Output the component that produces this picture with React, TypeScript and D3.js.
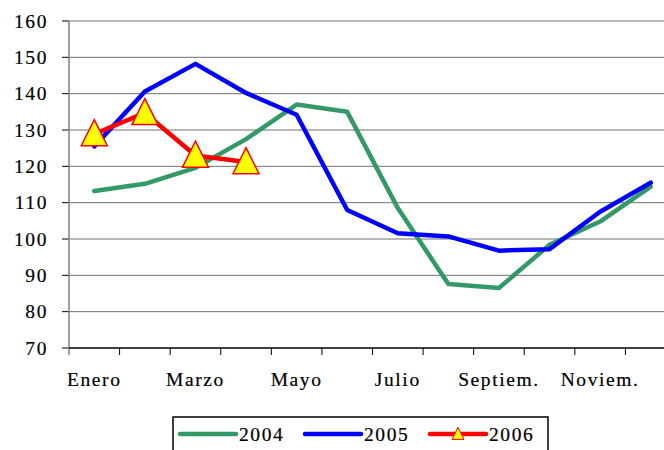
import React from "react";
import * as d3 from "d3";

const months = ["Ene", "Feb", "Mar", "Abr", "May", "Jun", "Jul", "Ago", "Sep", "Oct", "Nov", "Dic"];
const monthLabels = ["Enero", "", "Marzo", "", "Mayo", "", "Julio", "", "Septiem.", "", "Noviem.", ""];
const yTicks = [70, 80, 90, 100, 110, 120, 130, 140, 150, 160];

const values2004 = [113.2, 115.2, 119.6, 127.5, 137, 135, 108.5, 87.6, 86.5, 98.4, 104.8, 114.4];
const values2005 = [125.5, 140.6, 148.2, 140.2, 134.2, 108, 101.6, 100.7, 96.8, 97.2, 107.5, 115.5];
const values2006 = [128.9, 134.7, 123, 121.2];

const series = [
  { name: "2004", values: values2004, color: "#339966", marker: false },
  { name: "2005", values: values2005, color: "#0000FF", marker: false },
  { name: "2006", values: values2006, color: "#FF0000", marker: true },
];

const textStyle = {
  fontFamily: "'Liberation Serif', serif",
  fontSize: 19.5,
  letterSpacing: 1.6,
  fill: "#000",
  stroke: "#000",
  strokeWidth: 0.2,
};

const triangle = (cx: number, cy: number, s: number) =>
  `M${cx},${cy - s * 0.55}L${cx + s / 2},${cy + s * 0.45}L${cx - s / 2},${cy + s * 0.45}Z`;

export default function App() {
  const width = 664;
  const height = 450;
  const left = 69;
  const right = 676;
  const top = 21;
  const bottom = 348;

  const x = d3.scaleBand<string>().domain(months).range([left, right]);
  const y = d3.scaleLinear().domain([70, 160]).range([bottom, top]);
  const cx = (i: number) => (x(months[i]) as number) + x.bandwidth() / 2;

  const line = d3
    .line<number>()
    .x((d, i) => cx(i))
    .y((d) => y(d));

  return (
    <svg width={width} height={height} style={{ position: "absolute", left: 0, top: 0 }}>
      <rect width={width} height={height} fill="#fff" />
      {yTicks.map((t) => (
        <g key={t}>
          {t > 70 && <line x1={left} x2={right} y1={y(t)} y2={y(t)} stroke="#707070" strokeWidth={1} />}
          <line x1={left - 7} x2={left} y1={y(t)} y2={y(t)} stroke="#000" strokeWidth={1} />
          <text x={48} y={y(t)} dy="0.34em" textAnchor="end" {...textStyle}>
            {t}
          </text>
        </g>
      ))}
      <line x1={left} x2={left} y1={top} y2={bottom + 7} stroke="#808080" strokeWidth={1.5} />
      <line x1={left} x2={right} y1={bottom} y2={bottom} stroke="#000" strokeWidth={1.5} />
      {months.map((m, i) => (
        <g key={m}>
          <line
            x1={(x(m) as number) + x.bandwidth()}
            x2={(x(m) as number) + x.bandwidth()}
            y1={bottom}
            y2={bottom + 7}
            stroke="#000"
          />
          {monthLabels[i] && (
            <text x={cx(i)} y={386} textAnchor="middle" {...textStyle}>
              {monthLabels[i]}
            </text>
          )}
        </g>
      ))}
      {series.map((s) => (
        <g key={s.name}>
          <path
            d={line(s.values) || ""}
            fill="none"
            stroke={s.color}
            strokeWidth={4.5}
            strokeLinejoin="round"
            strokeLinecap="round"
          />
          {s.marker &&
            s.values.map((v, i) => (
              <path key={i} d={triangle(cx(i), y(v), 26)} fill="#FFFF00" stroke="#FF0000" strokeWidth={1.5} />
            ))}
        </g>
      ))}
      <g>
        <rect x={173} y={417} width={375} height={40} fill="#fff" stroke="#000" strokeWidth={1.5} />
        {series.map((s, i) => {
          const lx = 180 + i * 125;
          return (
            <g key={s.name}>
              <line x1={lx} x2={lx + 56} y1={434} y2={434} stroke={s.color} strokeWidth={4.5} strokeLinecap="round" />
              {s.marker && <path d={triangle(lx + 28, 434, 12)} fill="#FFFF00" stroke="#FF0000" strokeWidth={1} />}
              <text x={lx + 59} y={434} dy="0.34em" {...textStyle}>
                {s.name}
              </text>
            </g>
          );
        })}
      </g>
    </svg>
  );
}
